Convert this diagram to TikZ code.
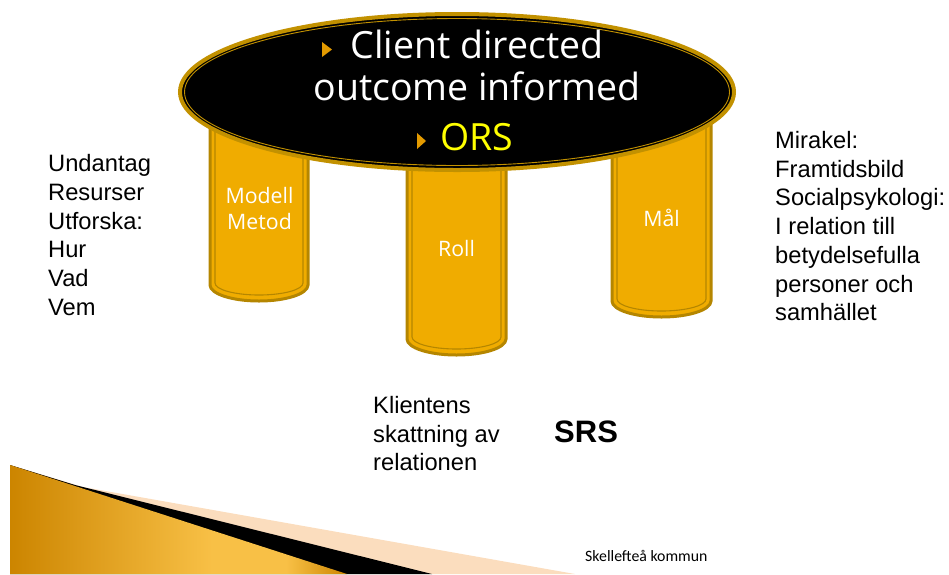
\documentclass[tikz,border=0pt]{standalone}
\usepackage{fontspec}
\setmainfont{Liberation Sans}
\newfontfamily\capfont{Open Sans}
\newfontfamily\footfont{Carlito}

\definecolor{pillarfill}{HTML}{F0AC00}
\definecolor{pillarline}{HTML}{B58600}
\definecolor{rimgold}{HTML}{C29100}
\definecolor{bulletorange}{HTML}{E39A00}
\definecolor{orsyellow}{HTML}{FFFF00}
\definecolor{wedgepeach}{HTML}{FBDDBE}
\definecolor{golddark}{HTML}{CC8500}
\definecolor{goldlight}{HTML}{F8C046}

\pgfdeclarehorizontalshading{goldwedge}{100bp}{%
  color(0bp)=(golddark); color(25bp)=(golddark); color(55bp)=(goldlight);
  color(66bp)=(goldlight); color(75bp)=(golddark); color(100bp)=(golddark)}

% left-aligned block of lines; the block's baseline is that of its first line
\newcommand\leftlines[2]{\vtop{\baselineskip=#1\lineskip=0pt\halign{##\hfil\cr#2\crcr}}}
% centred block of lines, same baseline rule
\newcommand\midlines[2]{\vtop{\baselineskip=#1\lineskip=0pt\halign{\hfil##\hfil\cr#2\crcr}}}

% one table leg: left x, right x, bottom y (stroke centres)
\newcommand\tableleg[3]{%
  \pgfmathsetmacro\legrx{(#2-#1)/2}%
  \pgfmathsetmacro\leginrx{(#2-#1)/2-5}%
  \filldraw[fill=pillarfill, draw=pillarline, line width=3pt]
    (#1,105) -- (#1,#3-16) arc[start angle=180, end angle=0, x radius=\legrx, y radius=16]
    -- (#2,105) -- cycle;
  \draw[pillarline, line width=1.1pt]
    (#1+5,105) -- (#1+5,#3-18) arc[start angle=180, end angle=0, x radius=\leginrx, y radius=12]
    -- (#2-5,105);
}

\tikzset{
  sidetext/.style={anchor=base west, inner sep=0pt, font=\fontsize{23.7}{28.7}\selectfont},
  legtext/.style={anchor=base, inner sep=0pt, text=white, font=\capfont\fontsize{21.3}{26}\selectfont},
  toptext/.style={anchor=base, inner sep=0pt, text=white, font=\capfont\fontsize{37.5}{42}\selectfont},
  bullet/.style={fill=bulletorange},
}

\begin{document}
\begin{tikzpicture}[x=1pt, y=1pt, yscale=-1]
\useasboundingbox (0,0) rectangle (949,574);

% corner wedge, back to front
\fill[wedgepeach] (10,465) -- (83,487) -- (575,574) -- (10,574) -- cycle;
\fill[black] (10,465) -- (75,485) -- (432,574) -- (10,574) -- cycle;
\shade[shading=goldwedge] (10,465) -- (347,574) -- (10,574) -- cycle;

% table legs
\tableleg{210}{308}{301}
\tableleg{407}{506}{355}
\tableleg{612}{711}{317}

% table top
\filldraw[fill=black, draw=rimgold, line width=4pt] (457,92) ellipse[x radius=277, y radius=78];
\draw[rimgold, line width=0.9pt] (457,92) ellipse[x radius=272.5, y radius=73.5];

% bullets on the table top
\fill[bullet] (322,42) -- (332,49.5) -- (322,57) -- cycle;
\fill[bullet] (417,133) -- (426,141) -- (417,149) -- cycle;

\node[toptext] (client) at (477,58) {Client directed};
\node[toptext] (outcome) at (477,100) {outcome informed};
\node[toptext, text=orsyellow] (ors) at (477,150) {ORS};

% leg labels
\node[legtext] (modell) at (259.5,203) {\midlines{26pt}{Modell\cr Metod}};
\node[legtext] (roll) at (456.5,256) {Roll};
\node[legtext] (mal) at (661.5,226) {Mål};

% side notes
\node[sidetext] (left) at (48,171.7) {\leftlines{28.7pt}{Undantag\cr Resurser\cr Utforska:\cr Hur\cr Vad\cr Vem}};
\node[sidetext] (right) at (775,148.5) {\leftlines{28.7pt}{Mirakel:\cr Framtidsbild\cr Socialpsykologi:\cr I relation till\cr betydelsefulla\cr personer och\cr samhället}};
\node[sidetext] (klient) at (373,413.5) {\leftlines{28.7pt}{Klientens\cr skattning av\cr relationen}};
\node[anchor=base west, inner sep=0pt, font=\bfseries\fontsize{31}{36}\selectfont] (srs) at (554,442) {SRS};

% footer
\node[anchor=base west, inner sep=0pt, font=\footfont\fontsize{15.8}{18}\selectfont] (footer) at (585,561) {Skellefteå kommun};
\end{tikzpicture}
\end{document}
